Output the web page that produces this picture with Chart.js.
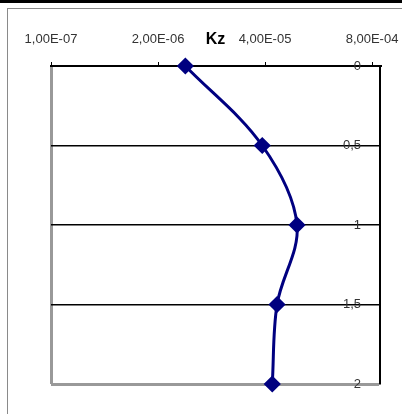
<!DOCTYPE html>
<html>
<head>
<meta charset="utf-8">
<script src="https://cdn.jsdelivr.net/npm/chart.js@4.4.0/dist/chart.umd.min.js"></script>
<style>
    html, body {margin: 0; padding: 0; background: #fff;}
    body {width: 402px; height: 414px; position: relative; overflow: hidden;}
    .barra-topo {position: absolute; left: 0; top: 0; width: 402px; height: 3px; background: #000;}
    .moldura {position: absolute; left: 7px; top: 8px; width: 420px; height: 420px; border-left: 1px solid #8a8a8a; border-top: 1px solid #8a8a8a;}
    #kzChart {position: absolute; left: 0; top: 0;}
</style>
</head>
<body>
<div class="barra-topo"></div>
<div class="moldura"></div>
<canvas id="kzChart" width="402" height="414"></canvas>
<script>
const profundidades = [0, 0.5, 1, 1.5, 2];
const valoresKz = [4.3e-6, 3.7e-5, 9.8e-5, 5.6e-5, 4.9e-5];
const ticksX = [1e-7, 2e-6, 4e-5, 8e-4];
const ticksY = [0, 0.5, 1, 1.5, 2];

function formatoExcel(v) {
    const partes = v.toExponential(2).split('e');
    const mant = partes[0].replace('.', ',');
    let exp = parseInt(partes[1], 10);
    const sinal = exp < 0 ? '-' : '+';
    exp = Math.abs(exp);
    return mant + 'E' + sinal + (exp < 10 ? '0' + exp : exp);
}

const fonteTicks = {family: "'Liberation Sans', Arial, sans-serif", size: 13};

new Chart(document.getElementById('kzChart').getContext('2d'), {
    type: 'scatter',
    data: {
        datasets: [{
            data: profundidades.map((p, i) => ({x: valoresKz[i], y: p})),
            showLine: true,
            clip: false,
            borderColor: '#000080',
            backgroundColor: '#000080',
            borderWidth: 3,
            tension: 0.35,
            pointStyle: 'rectRot',
            pointRadius: 6.5,
            pointHoverRadius: 6.5
        }]
    },
    options: {
        responsive: false,
        animation: false,
        layout: {padding: {left: 51, top: 20, right: 0, bottom: 30}},
        plugins: {legend: {display: false}, tooltip: {enabled: false}},
        scales: {
            x: {
                type: 'logarithmic',
                position: 'top',
                min: 1e-7,
                max: 1e-3,
                afterBuildTicks: scale => { scale.ticks = ticksX.map(v => ({value: v})); },
                afterFit: scale => {
                    scale.height = 46;
                    scale.paddingLeft = 0;
                    scale.paddingRight = 0;
                },
                ticks: {
                    autoSkip: false,
                    maxRotation: 0,
                    padding: 15,
                    color: '#333',
                    font: fonteTicks,
                    callback: v => formatoExcel(v)
                },
                grid: {
                    drawOnChartArea: true,
                    color: ctx => ctx.index === 0 ? '#999' : 'rgba(0,0,0,0)',
                    lineWidth: 3,
                    tickColor: '#000',
                    tickWidth: 1,
                    tickLength: 4
                },
                border: {display: true, color: '#000', width: 2},
                title: {
                    display: true,
                    text: 'Kz',
                    color: '#000',
                    padding: {top: 10, bottom: 0},
                    font: {family: "'Liberation Sans', Arial, sans-serif", size: 16, weight: 'bold'}
                }
            },
            y: {
                type: 'linear',
                position: 'right',
                reverse: true,
                min: 0,
                max: 2,
                afterBuildTicks: scale => { scale.ticks = ticksY.map(v => ({value: v})); },
                afterFit: scale => { scale.width = 22; },
                ticks: {
                    mirror: true,
                    padding: -19,
                    color: '#333',
                    font: fonteTicks,
                    callback: v => String(v).replace('.', ',')
                },
                grid: {
                    drawTicks: false,
                    color: ctx => ctx.tick && ctx.tick.value === 2 ? '#999' : '#000',
                    lineWidth: ctx => ctx.tick && ctx.tick.value === 2 ? 3 : 1.5
                },
                border: {display: true, color: '#000', width: 2}
            }
        }
    }
});
</script>
</body>
</html>
